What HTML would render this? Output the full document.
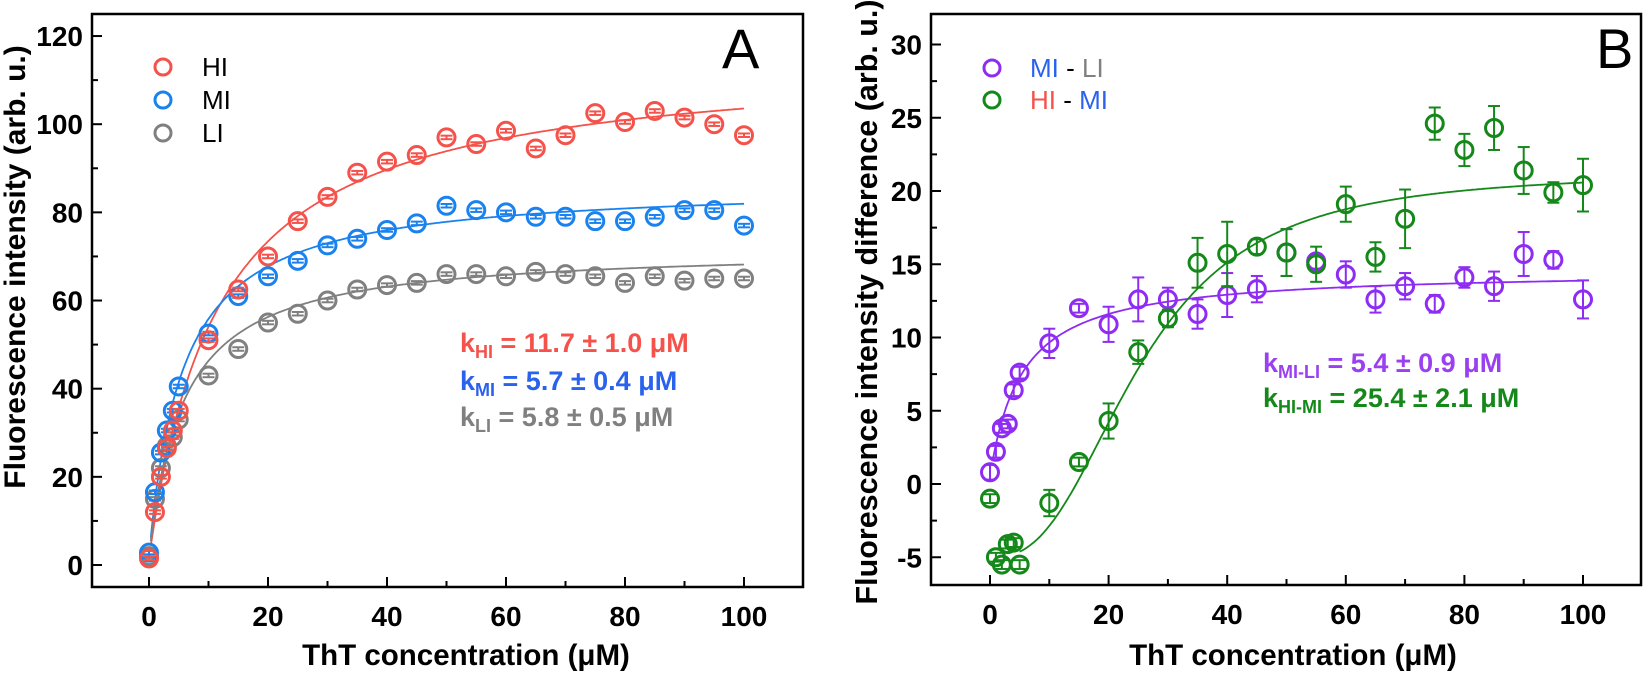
<!DOCTYPE html>
<html><head><meta charset="utf-8"><style>
html,body{margin:0;padding:0;background:#fff;}
svg{display:block;font-family:"Liberation Sans",Arial,sans-serif;}
</style></head><body>
<svg id="s" width="1645" height="677" viewBox="0 0 1645 677" xmlns="http://www.w3.org/2000/svg"></svg>
<script>
var S=document.getElementById('s'),out='';
function ax(o){
 var X=function(v){return o.x0+v*o.sx}, Y=function(v){return o.y0-v*o.sy};
 out+='<rect x="'+o.L+'" y="'+o.T+'" width="'+(o.R-o.L)+'" height="'+(o.B-o.T)+'" fill="none" stroke="#000" stroke-width="2.5"/>';
 for(var v=0;v<=100;v+=10){var x=X(v),len=(v%20==0)?10:6;
  out+='<line x1="'+x+'" y1="'+o.B+'" x2="'+x+'" y2="'+(o.B-len)+'" stroke="#000" stroke-width="2"/>';
  if(v%20==0) out+='<text x="'+x+'" y="'+(o.B+39)+'" font-size="28" font-weight="bold" text-anchor="middle">'+v+'</text>';}
 for(var v=o.ymin;v<=o.ymax+0.01;v+=o.ym){var y=Y(v),maj=Math.abs((v-o.ymin)%(2*o.ym))<0.01==o.majEven;var len=maj?10:6;
  out+='<line x1="'+o.L+'" y1="'+y+'" x2="'+(o.L+len)+'" y2="'+y+'" stroke="#000" stroke-width="2"/>';
  if(maj) out+='<text x="'+(o.L-9)+'" y="'+(y+10)+'" font-size="28" font-weight="bold" text-anchor="end">'+v+'</text>';}
 return [X,Y];
}
function curve(X,Y,f,col,x1){var d='';for(var i=0;i<=400;i++){var x=x1+(100-x1)*i/400;d+=(i?'L':'M')+X(x).toFixed(1)+','+Y(f(x)).toFixed(1);}
 out+='<path d="'+d+'" fill="none" stroke="'+col+'" stroke-width="1.8"/>';}
function pts(X,Y,data,col,err){var xs=[0,1,2,3,4,5,10,15,20,25,30,35,40,45,50,55,60,65,70,75,80,85,90,95,100];
 data.forEach(function(v,i){var x=X(xs[i]),y=Y(v);var e=err?err[i]:0.4;
  var y1=Y(v+e),y2=Y(v-e);
  out+='<line x1="'+x+'" y1="'+y1+'" x2="'+x+'" y2="'+y2+'" stroke="'+col+'" stroke-width="2"/>';
  out+='<line x1="'+(x-6)+'" y1="'+y1+'" x2="'+(x+6)+'" y2="'+y1+'" stroke="'+col+'" stroke-width="2"/><line x1="'+(x-6)+'" y1="'+y2+'" x2="'+(x+6)+'" y2="'+y2+'" stroke="'+col+'" stroke-width="2"/>';
  out+='<circle cx="'+x+'" cy="'+y+'" r="8.5" fill="none" stroke="'+col+'" stroke-width="3"/>';});}
var RED='#f4524a',BLUE='#1a82ee',GRAY='#808080',PUR='#8f2cf4',GRN='#15881a';
// Panel A
var a=ax({L:92,R:803,T:14,B:587,x0:149,sx:5.95,y0:565,sy:4.408,ymin:0,ymax:120,ym:10,majEven:true});
var XA=a[0],YA=a[1];
curve(XA,YA,function(x){return 1.5+114*x/(11.7+x)},RED,0.3);
curve(XA,YA,function(x){return 2+84.5*x/(5.7+x)},BLUE,0.3);
curve(XA,YA,function(x){return 2+70*x/(5.8+x)},GRAY,0.3);
pts(XA,YA,[2,15,22,27,29,33,43,49,55,57,60,62.5,63.5,64,66,66,65.5,66.5,66,65.5,64,65.5,64.5,65,65],GRAY);
pts(XA,YA,[2.8,16.5,25.5,30.5,35,40.5,52.5,61,65.5,69,72.5,74,76,77.5,81.5,80.5,80,79,79,78,78,79,80.5,80.5,77],BLUE);
pts(XA,YA,[1.5,12,20,26.5,30.5,35,51,62.5,70,78,83.5,89,91.5,93,97,95.5,98.5,94.5,97.5,102.5,100.5,103,101.5,100,97.5],RED);
[[RED,'HI',67],[BLUE,'MI',100],[GRAY,'LI',133]].forEach(function(l){out+='<circle cx="163" cy="'+l[2]+'" r="8" fill="none" stroke="'+l[0]+'" stroke-width="3"/><text x="202" y="'+(l[2]+9)+'" font-size="26">'+l[1]+'</text>';});
out+='<text x="722" y="68" font-size="56">A</text>';
out+='<text font-size="27" font-weight="bold" fill="'+RED+'" x="460" y="352">k<tspan font-size="18" dy="6">HI</tspan><tspan dy="-6"> = 11.7 ± 1.0 μM</tspan></text>';
out+='<text font-size="27" font-weight="bold" fill="#2a62ee" x="460" y="390">k<tspan font-size="18" dy="6">MI</tspan><tspan dy="-6"> = 5.7 ± 0.4 μM</tspan></text>';
out+='<text font-size="27" font-weight="bold" fill="'+GRAY+'" x="460" y="426">k<tspan font-size="18" dy="6">LI</tspan><tspan dy="-6"> = 5.8 ± 0.5 μM</tspan></text>';
out+='<text x="466" y="665" font-size="29.5" font-weight="bold" text-anchor="middle">ThT concentration (μM)</text>';
out+='<text transform="translate(25,267) rotate(-90)" font-size="30" font-weight="bold" text-anchor="middle">Fluorescence intensity (arb. u.)</text>';
// Panel B
var b=ax({L:931,R:1641,T:14,B:585,x0:990,sx:5.93,y0:484,sy:14.65,ymin:-5,ymax:30,ym:2.5,majEven:true});
var XB=b[0],YB=b[1];
curve(XB,YB,function(x){return 0.5+14.1*x/(5.4+x)},PUR,0.5);
curve(XB,YB,function(x){var n=2.6;return -5+26.3*Math.pow(x,n)/(Math.pow(25.4,n)+Math.pow(x,n))},GRN,5);
pts(XB,YB,[0.8,2.2,3.8,4.1,6.4,7.6,9.6,12,10.9,12.6,12.6,11.6,12.9,13.3,15.8,15.2,14.3,12.6,13.5,12.3,14.1,13.5,15.7,15.3,12.6],PUR,[0.5,0.4,0.3,0.3,0.4,0.4,1,0.3,1.2,1.5,0.8,1,1.5,0.9,1.6,0.5,0.9,0.9,0.9,0.6,0.7,1,1.5,0.6,1.3]);
pts(XB,YB,[-1,-5,-5.5,-4.1,-4,-5.5,-1.3,1.5,4.3,9,11.3,15.1,15.7,16.2,15.8,15,19.1,15.5,18.1,24.6,22.8,24.3,21.4,19.9,20.4],GRN,[0.3,0.3,0.3,0.3,0.3,0.3,0.9,0.3,1.2,0.8,0.6,1.7,2.2,0.5,1.6,1.2,1.2,1,2,1.1,1.1,1.5,1.6,0.7,1.8]);
out+='<circle cx="992" cy="68" r="8" fill="none" stroke="'+PUR+'" stroke-width="3"/><circle cx="992" cy="100" r="8" fill="none" stroke="'+GRN+'" stroke-width="3"/>';
out+='<text x="1030" y="77" font-size="26"><tspan fill="#2a62ee">MI</tspan> - <tspan fill="'+GRAY+'">LI</tspan></text>';
out+='<text x="1030" y="109" font-size="26"><tspan fill="'+RED+'">HI</tspan> - <tspan fill="#2a62ee">MI</tspan></text>';
out+='<text x="1596" y="68" font-size="56">B</text>';
out+='<text font-size="27" font-weight="bold" fill="#9b40f0" x="1263" y="372">k<tspan font-size="18" dy="6">MI-LI</tspan><tspan dy="-6"> = 5.4 ± 0.9 μM</tspan></text>';
out+='<text font-size="27" font-weight="bold" fill="'+GRN+'" x="1263" y="407">k<tspan font-size="18" dy="6">HI-MI</tspan><tspan dy="-6"> = 25.4 ± 2.1 μM</tspan></text>';
out+='<text x="1293" y="665" font-size="29.5" font-weight="bold" text-anchor="middle">ThT concentration (μM)</text>';
out+='<text transform="translate(877,302) rotate(-90)" font-size="30.5" font-weight="bold" text-anchor="middle">Fluorescence intensity difference (arb. u.)</text>';
S.innerHTML=out;
</script>
</body></html>
